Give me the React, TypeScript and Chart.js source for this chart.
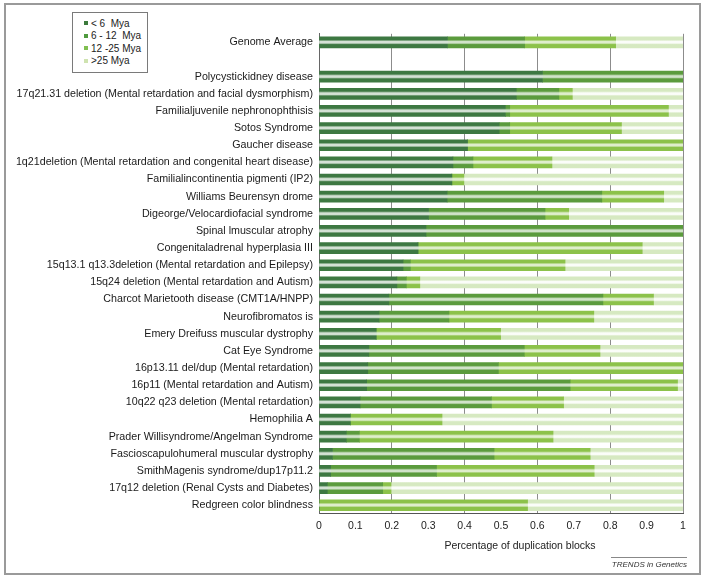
import React, { useEffect, useRef } from 'react';
import { Chart, registerables } from 'chart.js';

Chart.register(...registerables);

const categories: string[] = [
  'Genome Average',
  '',
  'Polycystickidney disease',
  '17q21.31 deletion (Mental retardation and facial dysmorphism)',
  'Familialjuvenile nephronophthisis',
  'Sotos Syndrome',
  'Gaucher disease',
  '1q21deletion (Mental retardation and congenital heart disease)',
  'Familialincontinentia pigmenti (IP2)',
  'Williams Beurensyn drome',
  'Digeorge/Velocardiofacial syndrome',
  'Spinal lmuscular atrophy',
  'Congenitaladrenal hyperplasia III',
  '15q13.1 q13.3deletion (Mental retardation and Epilepsy)',
  '15q24 deletion (Mental retardation and Autism)',
  'Charcot Marietooth disease (CMT1A/HNPP)',
  'Neurofibromatos is',
  'Emery Dreifuss muscular dystrophy',
  'Cat Eye Syndrome',
  '16p13.11 del/dup (Mental retardation)',
  '16p11 (Mental retardation and Autism)',
  '10q22 q23 deletion (Mental retardation)',
  'Hemophilia A',
  'Prader Willisyndrome/Angelman Syndrome',
  'Fascioscapulohumeral muscular dystrophy',
  'SmithMagenis syndrome/dup17p11.2',
  '17q12 deletion (Renal Cysts and Diabetes)',
  'Redgreen color blindness',
];

// share of duplication blocks in each age class
const lt6Mya: (number | null)[] = [
  0.353, null, 0.614, 0.542, 0.512, 0.495, 0.408, 0.368, 0.365, 0.352, 0.301, 0.294, 0.272, 0.231,
  0.214, 0.192, 0.165, 0.157, 0.137, 0.134, 0.131, 0.113, 0.086, 0.075, 0.037, 0.032, 0.023, 0,
];
const mya6to12: (number | null)[] = [
  0.212, null, 0.386, 0.117, 0.012, 0.029, 0, 0.055, 0, 0.425, 0.32, 0.706, 0, 0.02,
  0.026, 0.588, 0.192, 0, 0.427, 0.359, 0.559, 0.361, 0, 0.036, 0.444, 0.291, 0.152, 0,
];
const mya12to25: (number | null)[] = [
  0.25, null, 0, 0.037, 0.436, 0.307, 0.592, 0.217, 0.033, 0.17, 0.065, 0, 0.616, 0.425,
  0.037, 0.139, 0.398, 0.342, 0.208, 0.507, 0.295, 0.198, 0.252, 0.532, 0.264, 0.433, 0.023, 0.573,
];
const gt25Mya: (number | null)[] = [
  0.185, null, 0, 0.304, 0.04, 0.169, 0, 0.36, 0.602, 0.053, 0.314, 0, 0.112, 0.324,
  0.723, 0.081, 0.245, 0.501, 0.228, 0, 0.015, 0.328, 0.662, 0.357, 0.255, 0.244, 0.802, 0.427,
];

const seriesLabels = ['< 6  Mya', '6 - 12  Mya', '12 -25 Mya', '>25 Mya'];
const xTickLabels = ['0', '0.1', '0.2', '0.3', '0.4', '0.5', '0.6', '0.7', '0.8', '0.9', '1'];

const COLORS = ['#3d7842', '#5b9b3d', '#8cc24a', '#d6e9c1'];
const MID_MIX = [0.78, 0.72, 0.72, 0.9];
const LEGEND_COLORS = ['#3c7a3c', '#4f9a3e', '#80bf50', '#cfe3b0'];
const BAR_H = 11;
const FONT = '"Liberation Sans", Arial, Helvetica, sans-serif';

function mixWhite(hex: string, t: number): string {
  const n = parseInt(hex.slice(1), 16);
  const r = (n >> 16) & 255;
  const g = (n >> 8) & 255;
  const b = n & 255;
  const m = (v: number) => Math.round(v + (255 - v) * t);
  return `rgb(${m(r)},${m(g)},${m(b)})`;
}

function barFill(color: string, t: number) {
  return (ctx: any) => {
    const chart = ctx.chart;
    const ys = chart && chart.scales ? chart.scales.y : null;
    if (!ys || ctx.type !== 'data' || ctx.dataIndex == null) return color;
    const yc = ys.getPixelForValue(ctx.dataIndex);
    if (!isFinite(yc)) return color;
    const h = BAR_H / 2;
    const g = chart.ctx.createLinearGradient(0, yc - h, 0, yc + h);
    g.addColorStop(0, color);
    g.addColorStop(0.26, color);
    g.addColorStop(0.42, mixWhite(color, t));
    g.addColorStop(0.56, mixWhite(color, t));
    g.addColorStop(0.7, color);
    g.addColorStop(1, color);
    return g;
  };
}

export default function App() {
  const ref = useRef<HTMLCanvasElement | null>(null);

  useEffect(() => {
    if (!ref.current) return;
    const series = [lt6Mya, mya6to12, mya12to25, gt25Mya];
    const chart = new Chart(ref.current, {
      type: 'bar',
      data: {
        labels: categories,
        datasets: series.map((d, i) => ({
          label: seriesLabels[i],
          data: d,
          backgroundColor: barFill(COLORS[i], MID_MIX[i]) as any,
          borderWidth: 0,
          barThickness: BAR_H,
        })),
      },
      options: {
        indexAxis: 'y',
        responsive: false,
        animation: false,
        devicePixelRatio: 1,
        layout: { padding: { left: 0, right: 21, top: 33.8, bottom: 0 } },
        plugins: {
          legend: { display: false },
          tooltip: { enabled: false },
          title: { display: false },
        },
        scales: {
          x: {
            stacked: true,
            min: 0,
            max: 1,
            ticks: {
              stepSize: 0.1,
              color: '#222',
              font: { family: FONT, size: 10.5 },
              padding: 6,
              maxRotation: 0,
              autoSkip: false,
              callback: (_v: any, i: number) => xTickLabels[i],
            },
            grid: {
              drawTicks: false,
              color: (c: any) => {
                const v = c.tick ? c.tick.value : 0;
                const k = Math.round(v * 10);
                return k > 0 && k % 2 === 0 ? '#8c8c8c' : 'rgba(0,0,0,0)';
              },
              lineWidth: 1,
            },
            border: { display: true, color: '#555', width: 1 },
            afterFit: (s: any) => {
              s.height = 581 - 513.8;
            },
          },
          y: {
            stacked: true,
            ticks: {
              color: '#1a1a1a',
              font: { family: FONT, size: 10.7 },
              padding: 6,
              autoSkip: false,
            },
            grid: { display: false, drawTicks: false },
            border: { display: true, color: '#666', width: 1 },
            afterFit: (s: any) => {
              s.width = 319;
            },
          },
        },
      },
    });
    return () => chart.destroy();
  }, []);

  return (
    <div style={{ position: 'fixed', left: 0, top: 0, width: 704, height: 581, background: '#fff', fontFamily: FONT }}>
      <div
        style={{
          position: 'absolute',
          left: 4,
          top: 3,
          width: 693,
          height: 568,
          border: '2px solid #9a9a9a',
        }}
      />
      <canvas ref={ref} width={704} height={581} style={{ position: 'absolute', left: 0, top: 0 }} />
      <div
        style={{
          position: 'absolute',
          left: 72,
          top: 12,
          width: 74,
          height: 59,
          border: '1px solid #7a7a7a',
          background: '#fff',
        }}
      >
        {seriesLabels.map((s, i) => (
          <div
            key={s}
            style={{
              position: 'absolute',
              left: 11,
              top: 4 + i * 12.6,
              height: 12,
              display: 'flex',
              alignItems: 'center',
              fontSize: 10,
              color: '#222',
              whiteSpace: 'pre',
            }}
          >
            <span style={{ display: 'inline-block', width: 4, height: 4, background: LEGEND_COLORS[i], marginRight: 3 }} />
            {s}
          </div>
        ))}
      </div>
      <div
        style={{
          position: 'absolute',
          left: 420,
          width: 200,
          top: 539,
          textAlign: 'center',
          fontSize: 10.5,
          color: '#222',
        }}
      >
        Percentage of duplication blocks
      </div>
      <div
        style={{
          position: 'absolute',
          left: 611,
          width: 76,
          top: 557,
          borderTop: '1px solid #888',
          textAlign: 'right',
          fontSize: 8,
          fontStyle: 'italic',
          color: '#333',
          paddingTop: 2,
        }}
      >
        TRENDS in Genetics
      </div>
    </div>
  );
}
